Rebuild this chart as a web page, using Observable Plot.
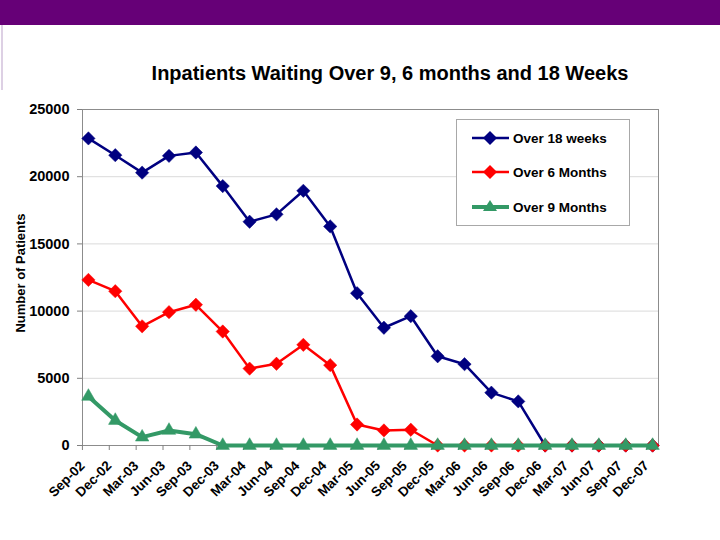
<!DOCTYPE html>
<html><head><meta charset="utf-8">
<script src="https://cdn.jsdelivr.net/npm/d3@7"></script>
<script src="https://cdn.jsdelivr.net/npm/@observablehq/plot@0.6"></script>
<style>
body{margin:0;background:#fff;}
#wrap{position:relative;width:720px;height:540px;overflow:hidden;font-family:"Liberation Sans",Arial,sans-serif;color:#000;}
#banner{position:absolute;left:0;top:0;width:720px;height:25px;background:#660077;}
#side{position:absolute;left:1px;top:25px;width:2px;height:65px;background:#ddd0e4;}
#title{position:absolute;left:130px;width:520px;top:62px;text-align:center;font-weight:bold;font-size:20px;}
#ylab{position:absolute;left:20px;top:273px;transform:translate(-50%,-50%) rotate(-90deg);font-weight:bold;font-size:13px;white-space:nowrap;}
#legend{position:absolute;left:456px;top:119px;width:174px;height:107px;border:1px solid #a8a8a8;background:#fff;box-sizing:border-box;}
.row{position:absolute;left:14px;height:18px;display:flex;align-items:center;font-weight:bold;font-size:13.5px;white-space:nowrap;}
.row svg{margin-right:2px;}
#chart{position:absolute;left:0;top:0;}
</style></head>
<body>
<div id="wrap">
<div id="chart"></div>
<div id="banner"></div>
<div id="side"></div>
<div id="title">Inpatients Waiting Over 9, 6 months and 18 Weeks</div>
<div id="ylab">Number of Patients</div>
<div id="legend"></div>
</div>
<script>
const dates = ["Sep-02","Dec-02","Mar-03","Jun-03","Sep-03","Dec-03","Mar-04","Jun-04","Sep-04","Dec-04","Mar-05","Jun-05","Sep-05","Dec-05","Mar-06","Jun-06","Sep-06","Dec-06","Mar-07","Jun-07","Sep-07","Dec-07"];
const over18Weeks = [22850,21600,20300,21550,21800,19300,16650,17200,18950,16300,11330,8760,9620,6640,6050,3930,3280,0,0,0,0,0];
const over6Months = [12320,11480,8870,9920,10470,8480,5720,6080,7490,5980,1560,1120,1170,0,0,0,0,0,0,0,0,0];
const over9Months = [3650,1860,620,1120,840,0,0,0,0,0,0,0,0,0,0,0,0,0,0,0,0,0];
const seriesNames = ["Over 18 weeks","Over 6 Months","Over 9 Months"];
const seriesColors = ["#000080","#ff0000","#339966"];
const yTicks = [0,5000,10000,15000,20000,25000];

const rows = (vals) => dates.map((d,i)=>({date:d, value:vals[i]}));
const d18 = rows(over18Weeks), d6 = rows(over6Months), d9 = rows(over9Months);
const font = '"Liberation Sans", Arial, sans-serif';

const chart = Plot.plot({
  width:720, height:540,
  marginTop:109, marginBottom:95, marginLeft:82, marginRight:62,
  style:{fontFamily:font, fontWeight:"bold", fontSize:"12.5px", color:"#000", background:"transparent", overflow:"visible"},
  x:{type:"point", domain:dates, padding:0.22, round:false, label:null},
  y:{domain:[0,25000], label:null},
  marks:[
    Plot.gridY(yTicks.slice(1,-1), {stroke:"#dadada", strokeOpacity:1}),
    Plot.frame({stroke:"#8c8c8c"}),
    Plot.axisY({ticks:yTicks, tickFormat:d=>String(d), tickSize:5, tickPadding:8, fontSize:14.5, stroke:"#808080", fill:"#000"}),
    Plot.axisX({tickRotate:-45, tickSize:5, tickPadding:13, dx:-6, fontSize:13.5, stroke:"#808080", fill:"#000"}),
    Plot.line(d18, {x:"date", y:"value", stroke:seriesColors[0], strokeWidth:2.5}),
    Plot.dot(d18, {x:"date", y:"value", symbol:"diamond2", r:6, fill:seriesColors[0], stroke:seriesColors[0], strokeWidth:0.5}),
    Plot.line(d6, {x:"date", y:"value", stroke:seriesColors[1], strokeWidth:2.5}),
    Plot.dot(d6, {x:"date", y:"value", symbol:"diamond2", r:6, fill:seriesColors[1], stroke:seriesColors[1], strokeWidth:0.5}),
    Plot.line(d9, {x:"date", y:"value", stroke:seriesColors[2], strokeWidth:4}),
    Plot.dot(d9, {x:"date", y:"value", symbol:"triangle", r:5, fill:seriesColors[2], stroke:seriesColors[2], strokeWidth:0.5})
  ]
});
document.getElementById("chart").appendChild(chart);

// legend
const legend = document.getElementById("legend");
const rowTops = [9, 43, 78];
seriesNames.forEach((name,i)=>{
  const r = document.createElement("div");
  r.className = "row";
  r.style.top = rowTops[i] + "px";
  const c = seriesColors[i];
  const marker = i < 2
    ? `<polygon points="19,2 26,9 19,16 12,9" fill="${c}"/>`
    : `<polygon points="19,2 26,13 12,13" fill="${c}"/>`;
  r.innerHTML = `<svg width="40" height="18"><line x1="1" y1="9" x2="38" y2="9" stroke="${c}" stroke-width="${i<2?2.5:4}"/>${marker}</svg><span>${name}</span>`;
  legend.appendChild(r);
});
</script>
</body></html>
